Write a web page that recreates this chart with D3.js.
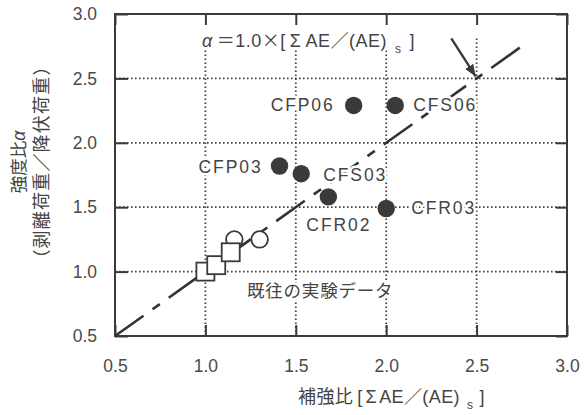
<!DOCTYPE html>
<html lang="ja">
<head>
<meta charset="UTF-8">
<title>補強比と強度比</title>
<script src="https://d3js.org/d3.v7.min.js"></script>
<style>
  body { margin: 0; background: #fff; }
  svg { display: block; font-family: "Liberation Sans", Arial, "Noto Sans CJK JP", sans-serif; }
  .tick text { font-size: 17.5px; fill: #4a4a4a; }
  .lbl { font-size: 17.5px; fill: #444; letter-spacing: 1.9px;
         stroke: #fff; stroke-width: 5px; paint-order: stroke; stroke-linejoin: round; }
  .cjk { font-family: "Noto Sans CJK JP", sans-serif; }
</style>
</head>
<body>
<script>
// data
const testNames = ["CFP06", "CFS06", "CFP03", "CFS03", "CFR02", "CFR03"];
const testX = [1.82, 2.05, 1.41, 1.53, 1.68, 2.00];
const testY = [2.29, 2.29, 1.82, 1.76, 1.58, 1.49];

const pastCircleX = [1.16, 1.30];
const pastCircleY = [1.25, 1.25];
const pastSquareX = [1.00, 1.06, 1.14];
const pastSquareY = [1.00, 1.05, 1.15];

const fitLine = [0.5, 2.78];          // alpha = 1.0 x ratio
const xTicks = [0.5, 1.0, 1.5, 2.0, 2.5, 3.0];
const yTicks = [0.5, 1.0, 1.5, 2.0, 2.5, 3.0];
const gridVals = [1.0, 1.5, 2.0, 2.5];

// label placement (dx, dy, anchor) relative to each point
const labelPos = {
  CFP06: [-19, 6, "end"], CFS06: [18, 6, "start"],
  CFP03: [-17, 7, "end"], CFS03: [22, 7, "start"],
  CFR02: [-22, 34, "start"], CFR03: [25, 6, "start"]
};

const W = 584, H = 415;
const L = 115, R = 567, T = 14, B = 336;
const ink = "#3a3a3a";

const svg = d3.select("body").append("svg").attr("width", W).attr("height", H);

const x = d3.scaleLinear().domain([0.5, 3.0]).range([L, R]);
const y = d3.scaleLinear().domain([0.5, 3.0]).range([B, T]);

// dotted grid
svg.append("g").selectAll("line").data(gridVals).join("line")
  .attr("x1", L).attr("x2", R).attr("y1", d => y(d)).attr("y2", d => y(d))
  .attr("stroke", "#444").attr("stroke-width", 1.8).attr("stroke-dasharray", "1.6,2.4");
svg.append("g").selectAll("line").data(gridVals).join("line")
  .attr("x1", d => x(d)).attr("x2", d => x(d)).attr("y1", y(0.5)).attr("y2", y(2.83))
  .attr("stroke", "#444").attr("stroke-width", 1.8).attr("stroke-dasharray", "1.6,2.4");

// axes (inward ticks)
const axBottom = svg.append("g").attr("transform", `translate(0,${B})`)
  .call(d3.axisBottom(x).tickValues(xTicks).tickSize(-11).tickPadding(24).tickFormat(d3.format(".1f")));
const axTop = svg.append("g").attr("transform", `translate(0,${T})`)
  .call(d3.axisTop(x).tickValues(xTicks).tickSize(-11).tickFormat(""));
const axLeft = svg.append("g").attr("transform", `translate(${L},0)`)
  .call(d3.axisLeft(y).tickValues(yTicks).tickSize(-13).tickPadding(18).tickFormat(d3.format(".1f")));
const axRight = svg.append("g").attr("transform", `translate(${R},0)`)
  .call(d3.axisRight(y).tickValues(yTicks).tickSize(-11).tickFormat(""));
[axBottom, axTop, axLeft, axRight].forEach(g => {
  g.select(".domain").remove();
  g.selectAll(".tick line").attr("stroke", ink).attr("stroke-width", 2);
  g.selectAll(".tick text").attr("font-family", "Liberation Sans, Arial, sans-serif");
});

// frame
svg.append("rect").attr("x", L).attr("y", T).attr("width", R - L).attr("height", B - T)
  .attr("fill", "none").attr("stroke", ink).attr("stroke-width", 2);

// alpha = 1.0 line
svg.append("line")
  .attr("x1", x(fitLine[0])).attr("y1", y(fitLine[0]))
  .attr("x2", x(fitLine[1])).attr("y2", y(fitLine[1]))
  .attr("stroke", "#333").attr("stroke-width", 2.6)
  .attr("stroke-dasharray", "35,11,9,11");

// past data
svg.append("g").selectAll("circle").data(pastCircleX).join("circle")
  .attr("cx", d => x(d)).attr("cy", (d, i) => y(pastCircleY[i])).attr("r", 8.3)
  .attr("fill", "#fff").attr("stroke", ink).attr("stroke-width", 1.8);
svg.append("g").selectAll("rect").data(pastSquareX).join("rect")
  .attr("x", d => x(d) - 9).attr("y", (d, i) => y(pastSquareY[i]) - 9)
  .attr("width", 18).attr("height", 18)
  .attr("fill", "#fff").attr("stroke", ink).attr("stroke-width", 1.8);

// test labels then points
svg.append("g").selectAll("text").data(testNames).join("text")
  .attr("class", "lbl")
  .attr("x", (d, i) => x(testX[i]) + labelPos[d][0])
  .attr("y", (d, i) => y(testY[i]) + labelPos[d][1])
  .attr("text-anchor", d => labelPos[d][2])
  .text(d => d);
svg.append("g").selectAll("circle").data(testNames).join("circle")
  .attr("cx", (d, i) => x(testX[i])).attr("cy", (d, i) => y(testY[i])).attr("r", 8.7)
  .attr("fill", ink);

svg.append("text").attr("class", "lbl")
  .attr("x", x(1.23)).attr("y", y(0.80))
  .style("letter-spacing", "0.8px").style("font-size", "17.5px")
  .text("既往の実験データ");

// equation annotation + arrow
const eq = svg.append("text").attr("class", "lbl")
  .attr("x", 202).attr("y", 47).style("letter-spacing", "0.5px").style("font-size", "18px");
eq.append("tspan").style("font-style", "italic").text("α");
eq.append("tspan").attr("class", "cjk").attr("dx", 4).text("＝");
eq.append("tspan").text("1.0");
eq.append("tspan").attr("class", "cjk").text("×");
eq.append("tspan").text("[");
eq.append("tspan").attr("dx", 4).text("Σ");
eq.append("tspan").attr("dx", 4).text("AE");
eq.append("tspan").attr("class", "cjk").text("／");
eq.append("tspan").text("(AE)");
eq.append("tspan").attr("dx", 8).attr("dy", 6).style("font-size", "12px").text("s");
eq.append("tspan").attr("dx", 8).attr("dy", -6).text("]");

svg.append("defs").append("marker").attr("id", "ah")
  .attr("viewBox", "0 0 10 10").attr("refX", 10).attr("refY", 5)
  .attr("markerWidth", 5).attr("markerHeight", 5).attr("orient", "auto")
  .append("path").attr("d", "M0,1 L10,5 L0,9 Z").attr("fill", ink);
svg.append("line")
  .attr("x1", x(2.36)).attr("y1", y(2.81))
  .attr("x2", x(2.495)).attr("y2", y(2.515))
  .attr("stroke", ink).attr("stroke-width", 2.4).attr("marker-end", "url(#ah)");

// axis titles
const xt = svg.append("text").attr("x", 298).attr("y", 403)
  .attr("fill", "#444").style("font-size", "18px").style("letter-spacing", "0.4px");
xt.append("tspan").attr("class", "cjk").text("補強比");
xt.append("tspan").attr("dx", 4).text("[");
xt.append("tspan").attr("dx", 3).text("Σ");
xt.append("tspan").attr("dx", 2).text("AE");
xt.append("tspan").attr("class", "cjk").text("／");
xt.append("tspan").text("(AE)");
xt.append("tspan").attr("dx", 7).attr("dy", 6).style("font-size", "12px").text("s");
xt.append("tspan").attr("dx", 6).attr("dy", -6).text("]");

const yt = svg.append("g").attr("transform", "translate(0,162) rotate(-90)");
const yt1 = yt.append("text").attr("x", 0).attr("y", 25).attr("text-anchor", "middle")
  .attr("fill", "#444").style("font-size", "17.5px");
yt1.append("tspan").attr("class", "cjk").text("強度比");
yt1.append("tspan").style("font-style", "italic").text("α");
yt.append("text").attr("class", "cjk").attr("x", 0).attr("y", 48).attr("text-anchor", "middle")
  .attr("fill", "#444").style("font-size", "18px").style("letter-spacing", "1.2px")
  .text("（剥離荷重／降伏荷重）");
</script>
</body>
</html>
